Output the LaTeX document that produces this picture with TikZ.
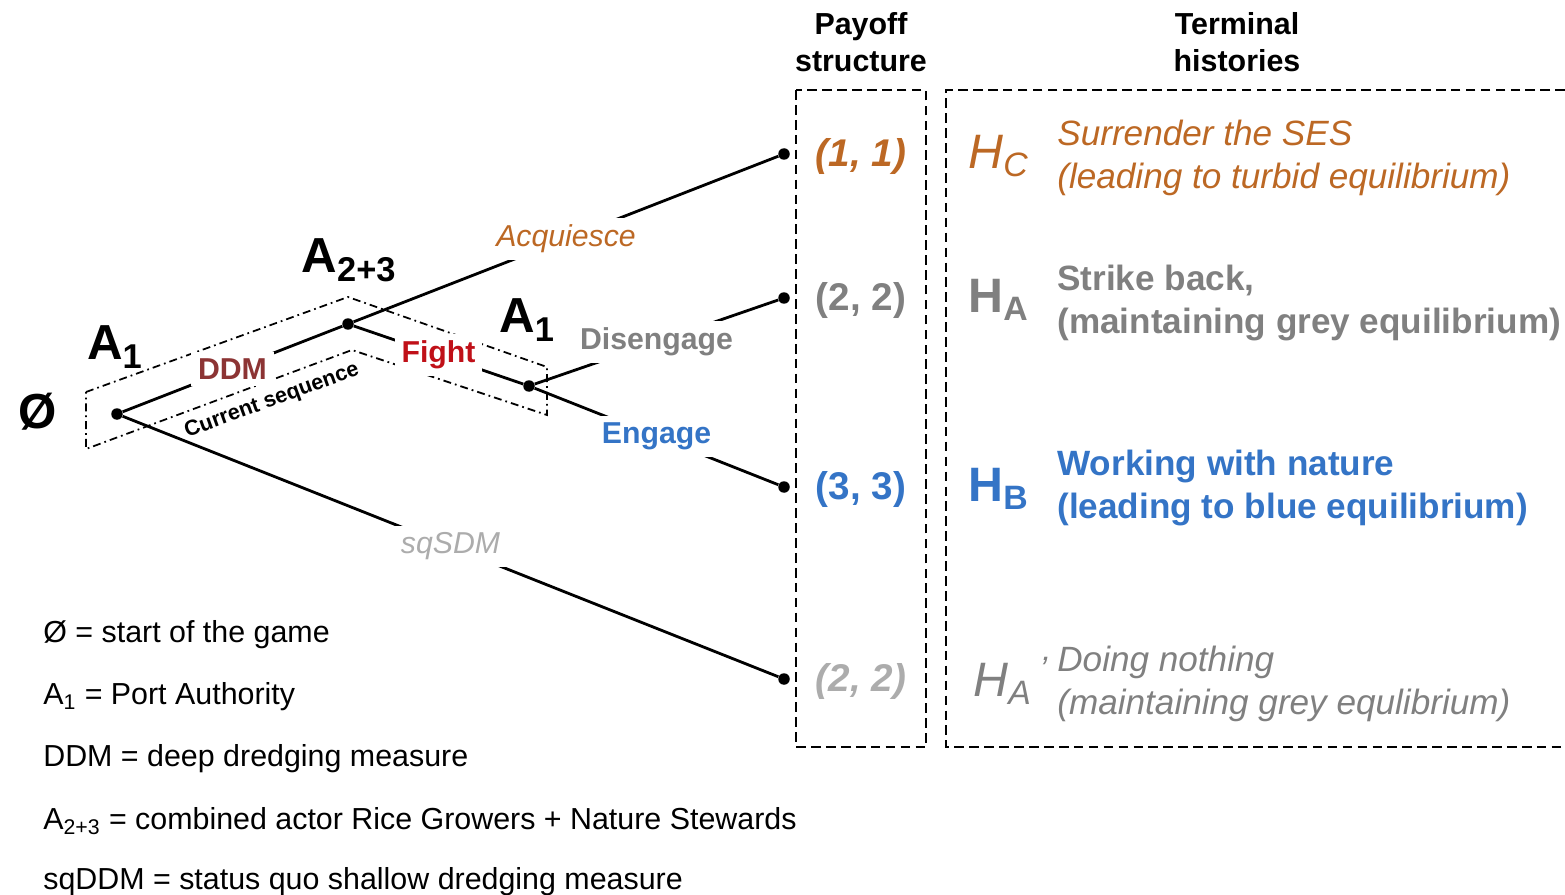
\documentclass[tikz,border=0pt]{standalone}
\usepackage{fontspec}
\setmainfont{Liberation Sans}
\definecolor{acq}{RGB}{188,104,36}
\definecolor{ddm}{RGB}{140,52,52}
\definecolor{fight}{RGB}{192,16,24}
\definecolor{greyA}{RGB}{128,128,128}
\definecolor{greyB}{RGB}{172,172,172}
\definecolor{eng}{RGB}{52,116,198}
\begin{document}
\begin{tikzpicture}[x=0.02cm,y=-0.02cm,
	dot/.style={circle,fill,inner sep=0pt,minimum size=0.23cm},
	branch/.style={line width=1.6pt},
	player/.style={inner sep=0pt,font=\fontsize{28}{30}\selectfont\bfseries},
	move/.style={midway,fill=white,inner sep=4pt,font=\fontsize{17.2}{20}\selectfont},
	payoff/.style={inner sep=0pt,font=\fontsize{22}{26}\selectfont\bfseries},
	hist/.style={anchor=west,inner sep=0pt,font=\fontsize{27.5}{30}\selectfont},
	story/.style={anchor=west,inner sep=0pt,align=left,font=\fontsize{20}{24.4}\selectfont},
	head/.style={align=center,inner sep=0pt,font=\fontsize{17.3}{21}\selectfont\bfseries},
	legend/.style={anchor=west,inner sep=0pt,font=\fontsize{17.3}{20}\selectfont},
	box/.style={line width=1pt,dash pattern=on 5.5pt off 3pt},
	seqbox/.style={line width=1pt,dash pattern=on 4.5pt off 2.3pt on 1pt off 2.3pt}]
	\useasboundingbox (0,0) rectangle (1565,895);

	\draw[seqbox] (86,392) -- (348,297) -- (547,367) -- (547,415) -- (352,350) -- (86,449) -- cycle;
	\node[rotate=20,inner sep=0pt,font=\fontsize{12.3}{14}\selectfont\bfseries] (CS) at (272,401) {Current sequence};

	\node[player] (S) at (38,412) {Ø};
	\node[player] (L1) at (115,347) {A\textsubscript{1}};
	\node[player] (L2) at (349,260) {A\textsubscript{2+3}};
	\node[player] (L3) at (527,320) {A\textsubscript{1}};

	\node[dot] (R) at (117,414) {};
	\node[dot] (N2) at (348,324) {};
	\node[dot] (N3) at (529,386) {};
	\node[dot] (T1) at (784,154) {};
	\node[dot] (T2) at (784,298) {};
	\node[dot] (T3) at (784,487) {};
	\node[dot] (T4) at (784,679) {};

	\draw[branch] (R) -- (N2) node[move,text=ddm] {\bfseries DDM};
	\draw[branch] (N2) -- (T1) node[move,text=acq] {\itshape Acquiesce};
	\draw[branch] (N2) -- (N3) node[move,text=fight] {\bfseries Fight};
	\draw[branch] (N3) -- (T2) node[move,text=greyA] {\bfseries Disengage};
	\draw[branch] (N3) -- (T3) node[move,text=eng] {\bfseries Engage};
	\draw[branch] (R) -- (T4) node[move,text=greyB] {\itshape sqSDM};

	\node[head] (PH) at (861,42) {Payoff\\structure};
	\node[head] (TH) at (1237,42) {Terminal\\histories};
	\draw[box] (796,90) rectangle (926,747);
	\draw[box] (1565,90) -- (946,90) -- (946,747) -- (1565,747);

	\node[payoff,text=acq] (P1) at (861,157) {\itshape (1, 1)};
	\node[payoff,text=greyA] (P2) at (861,301) {(2, 2)};
	\node[payoff,text=eng] (P3) at (861,490) {(3, 3)};
	\node[payoff,text=greyB] (P4) at (861,682) {\itshape (2, 2)};

	\node[hist,text=acq] (H1) at (968,156) {\itshape H\textsubscript{C}};
	\node[hist,text=greyA] (H2) at (968,300) {\bfseries H\textsubscript{A}};
	\node[hist,text=eng] (H3) at (968,489) {\bfseries H\textsubscript{B}};
	\node[hist,text=greyA] (H4) at (973,681) {\itshape H\textsubscript{A}\,\textsuperscript{’}};

	\node[story,text=acq] (D1) at (1057,158) {\itshape Surrender the SES\\\itshape (leading to turbid equilibrium)};
	\node[story,text=greyA] (D2) at (1057,303) {\bfseries Strike back,\\\bfseries (maintaining grey equilibrium)};
	\node[story,text=eng] (D3) at (1057,488) {\bfseries Working with nature\\\bfseries (leading to blue equilibrium)};
	\node[story,text=greyA] (D4) at (1057,684) {\itshape Doing nothing\\\itshape (maintaining grey equlibrium)};

	\node[legend] (K1) at (43,635) {Ø = start of the game};
	\node[legend] (K2) at (43,697) {A\textsubscript{1} = Port Authority};
	\node[legend] (K3) at (43,759) {DDM = deep dredging measure};
	\node[legend] (K4) at (43,821) {A\textsubscript{2+3} = combined actor Rice Growers + Nature Stewards};
	\node[legend] (K5) at (43,882) {sqDDM = status quo shallow dredging measure};
\end{tikzpicture}
\end{document}
